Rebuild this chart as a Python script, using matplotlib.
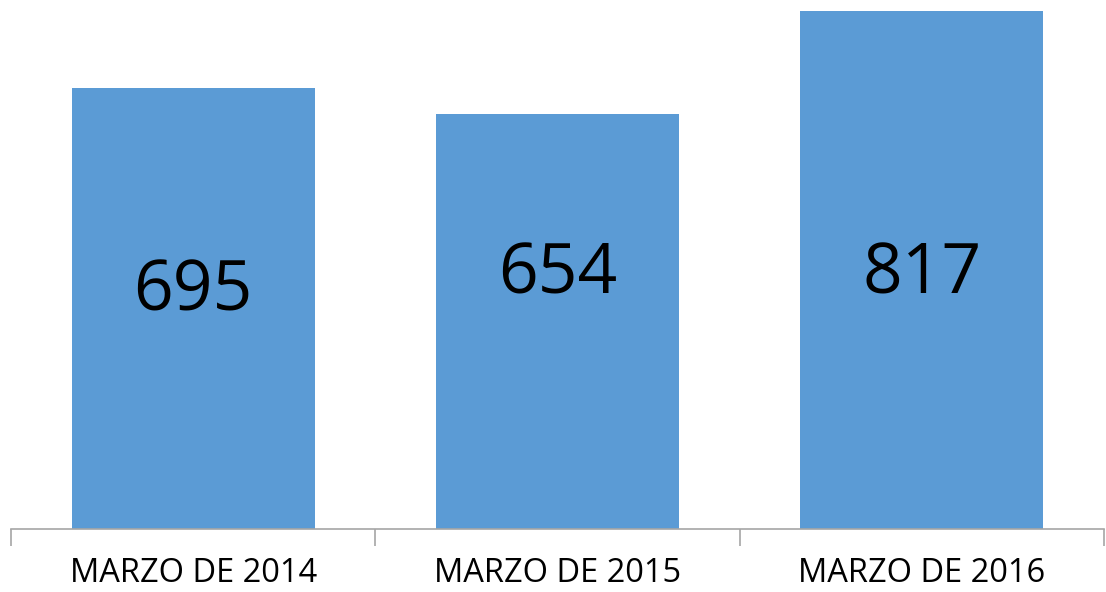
import matplotlib
matplotlib.use("Agg")
import matplotlib.pyplot as plt

categories = ["MARZO DE 2014", "MARZO DE 2015", "MARZO DE 2016"]
values = [695, 654, 817]
# vertical placement of the value labels (data units), as in the source
label_y = [372, 399, 399]

W, H = 1106, 592
fig = plt.figure(figsize=(W / 100, H / 100), dpi=100)
ax = fig.add_axes([11 / W, 1 - 528.5 / H, (1104 - 11) / W, 528.5 / H])

x = range(len(categories))
ax.bar(x, values, width=0.667, color="#5B9BD5", zorder=2)
ax.set_xlim(-0.5, len(categories) - 0.5)
ax.set_ylim(0, 834)

for xi, v, ly in zip(x, values, label_y):
    ax.text(xi, ly, str(v), ha="center", va="center", fontsize=50,
            family="Open Sans", color="black")

for s in ["top", "right", "left"]:
    ax.spines[s].set_visible(False)
ax.spines["bottom"].set_color("#A6A6A6")
ax.spines["bottom"].set_linewidth(1.2)
ax.set_yticks([])

# category labels centred, tick marks at category boundaries
ax.set_xticks([i - 0.5 for i in range(len(categories) + 1)])
ax.set_xticklabels([])
ax.tick_params(axis="x", length=12, width=1.2, color="#A6A6A6", direction="out")
for xi, c in zip(x, categories):
    ax.text(xi, -0.116, c, transform=ax.get_xaxis_transform(), ha="center",
            va="bottom", fontsize=23.5, family="Open Sans", color="black")

fig.savefig("out.png", dpi=100)
